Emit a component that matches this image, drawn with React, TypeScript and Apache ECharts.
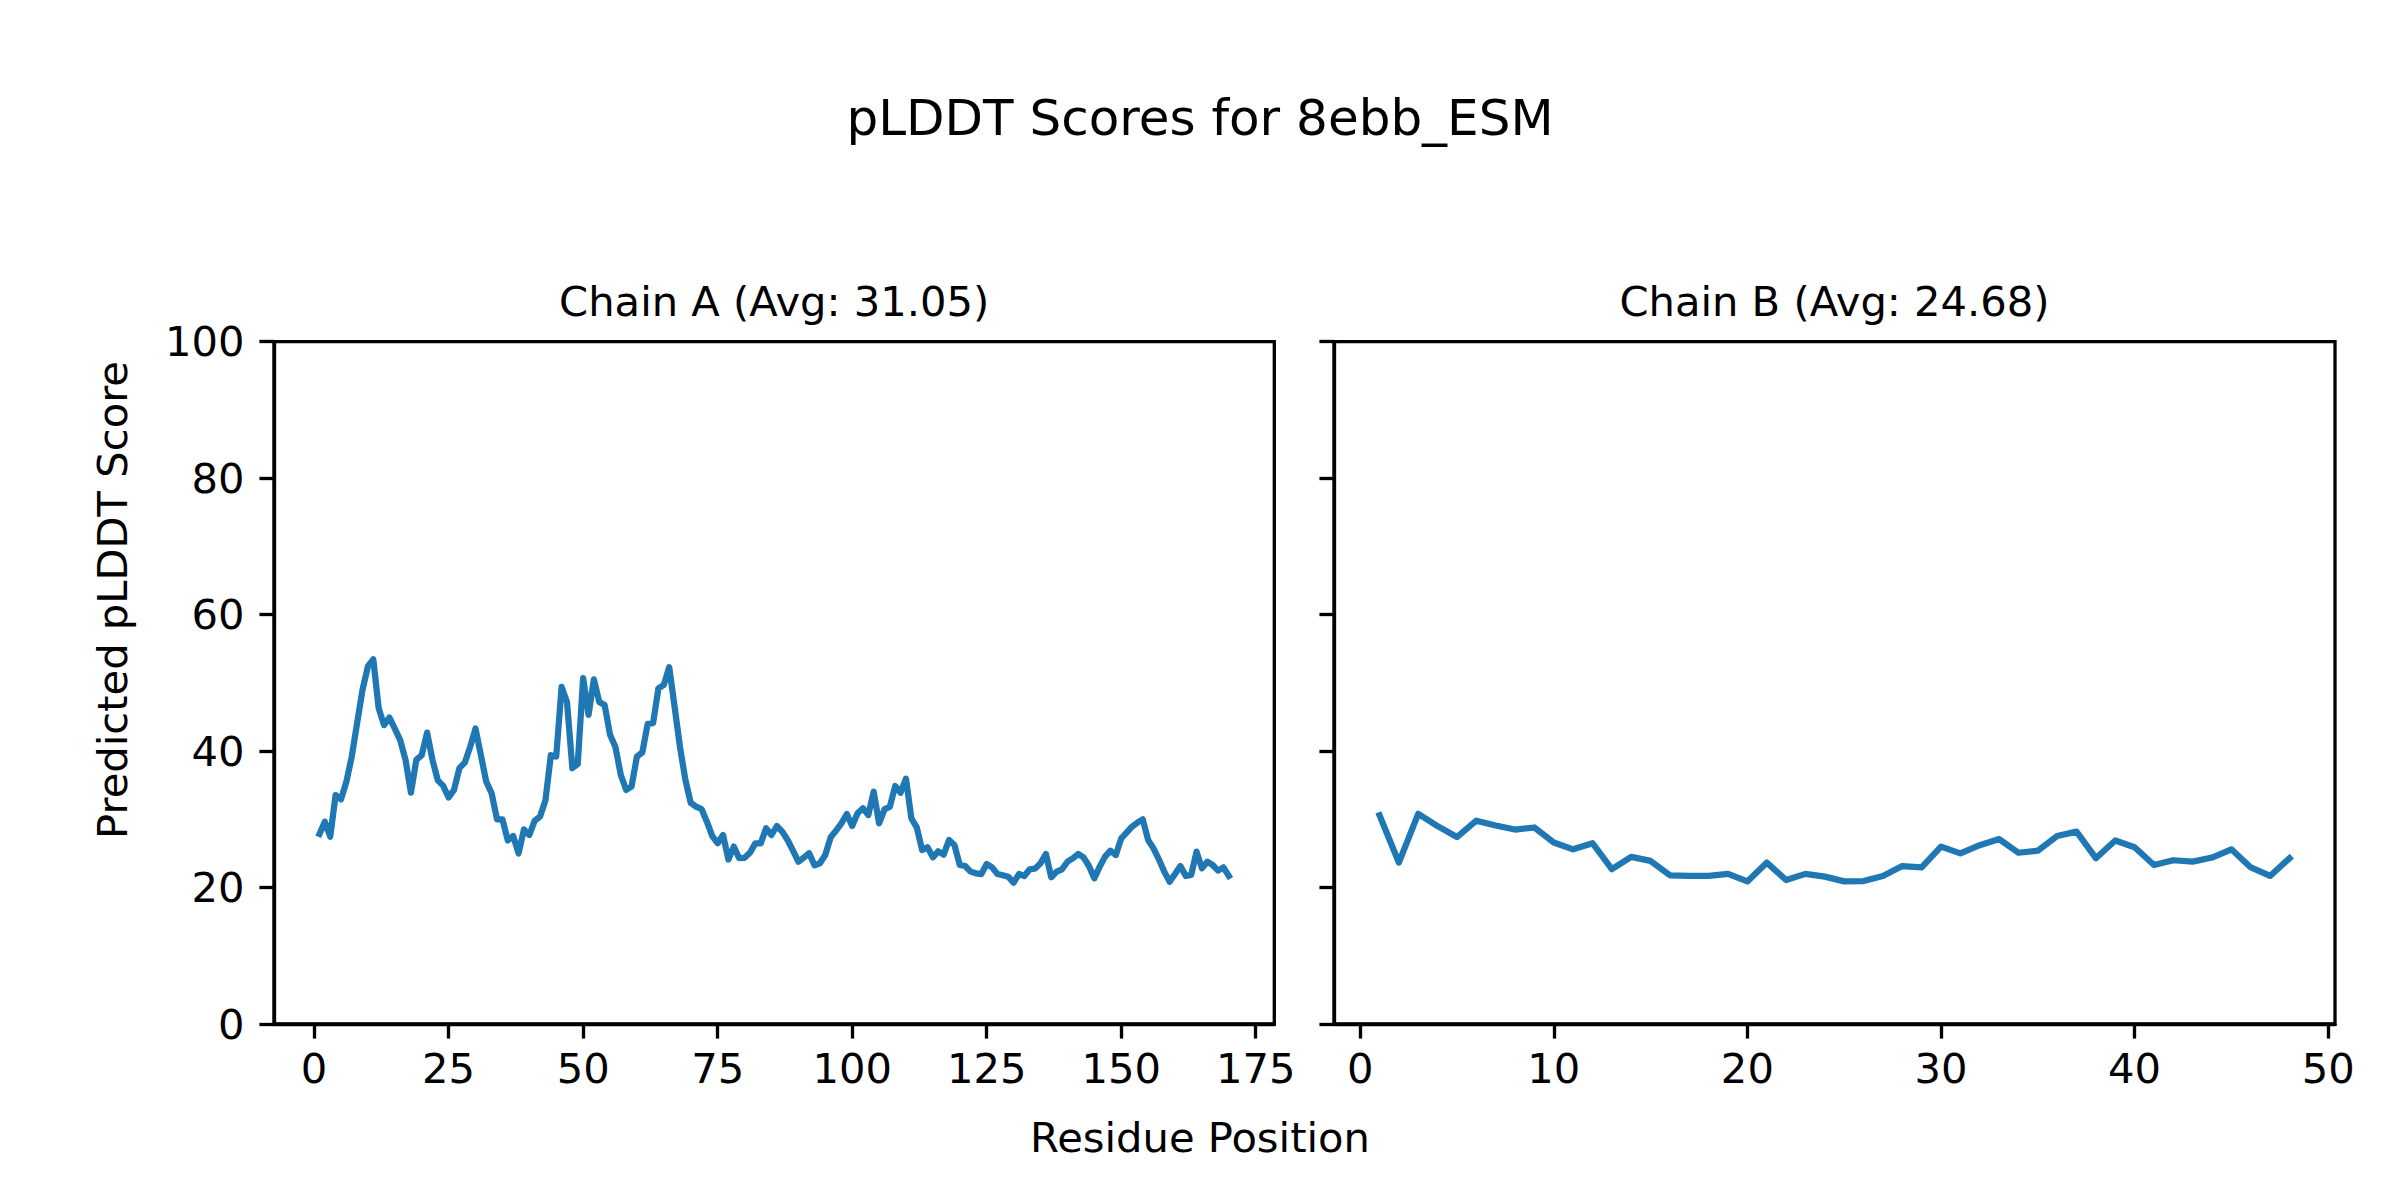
import React, { useEffect, useRef } from "react";
import * as echarts from "echarts";

const chainAScores = [
  27.85, 29.65, 27.45, 33.56, 32.93, 35.5, 39.2, 44.1, 49.0, 52.4,
  53.45, 46.3, 43.8, 44.9, 43.3, 41.6, 38.7, 33.9, 38.7, 39.4,
  42.7, 38.7, 35.7, 34.9, 33.2, 34.3, 37.5, 38.3, 40.6, 43.3,
  39.4, 35.5, 33.8, 30.0, 30.0, 26.9, 27.55, 25.0, 28.5, 27.7,
  29.8, 30.4, 32.8, 39.4, 39.2, 49.4, 47.2, 37.5, 38.1, 50.7,
  45.3, 50.5, 47.2, 46.75, 42.4, 40.6, 36.5, 34.3, 34.8, 39.2,
  39.8, 44.0, 44.1, 49.2, 49.7, 52.3, 46.5, 40.6, 35.8, 32.4,
  31.85, 31.5, 29.65, 27.55, 26.5, 27.7, 24.1, 26.0, 24.3, 24.35,
  25.1, 26.48, 26.48, 28.68, 27.7, 29.02, 28.19, 26.97, 25.4, 23.79,
  24.38, 25.02, 23.26, 23.55, 24.77, 27.36, 28.34, 29.41, 30.78, 29.02,
  30.88, 31.61, 30.63, 34.05, 29.41, 31.46, 31.85, 34.88, 33.9, 35.95,
  30.15, 28.83, 25.5, 25.89, 24.43, 25.31, 24.82, 26.97, 26.24, 23.3,
  23.16, 22.33, 22.08, 21.98, 23.45, 22.96, 21.98, 21.79, 21.59, 20.71,
  21.98, 21.69, 22.67, 22.77, 23.55, 24.92, 21.5, 22.33, 22.67, 23.79,
  24.28, 24.92, 24.43, 23.16, 21.35, 23.06, 24.53, 25.4, 24.77, 27.21,
  28.04, 28.92, 29.5, 30.0, 26.97, 25.74, 24.14, 22.33, 20.86, 21.98,
  23.16, 21.69, 21.84, 25.26, 22.81, 23.79, 23.3, 22.48, 22.96, 21.69,
];

const chainBScores = [
  30.6, 23.65, 30.8, 29.0, 27.4, 29.8, 29.1, 28.5, 28.8, 26.6,
  25.6, 26.5, 22.7, 24.5, 23.9, 21.8, 21.7, 21.7, 22.0, 20.9,
  23.65, 21.1, 22.0, 21.6, 20.9, 20.95, 21.7, 23.15, 22.95, 26.0,
  25.0, 26.2, 27.1, 25.1, 25.4, 27.55, 28.2, 24.3, 26.9, 25.9,
  23.3, 24.0, 23.8, 24.4, 25.6, 22.95, 21.7, 24.3,
];

const chainAXTicks = [0, 25, 50, 75, 100, 125, 150, 175];
const chainBXTicks = [0, 10, 20, 30, 40, 50];

const suptitle = "pLDDT Scores for 8ebb_ESM";
const chainATitle = "Chain A (Avg: 31.05)";
const chainBTitle = "Chain B (Avg: 24.68)";
const xLabel = "Residue Position";
const yLabel = "Predicted pLDDT Score";

const FONT = "DejaVu Sans";
const FS = 41.67;
const TICK_W = 3.33;
const TICK_LEN = 14.58;

function toPairs(values: number[]) {
  return values.map((v, i) => [i + 1, v]);
}

function xAxisCfg(gridIndex: number, min: number, max: number, ticks: number[]) {
  return {
    type: "value",
    gridIndex,
    min,
    max,
    axisLine: { show: true, onZero: false, lineStyle: { color: "#000", width: TICK_W } },
    splitLine: { show: false },
    axisTick: {
      show: true,
      inside: false,
      length: TICK_LEN,
      customValues: ticks,
      lineStyle: { color: "#000", width: TICK_W },
    },
    axisLabel: {
      show: true,
      customValues: ticks,
      margin: 24,
      fontSize: FS,
      lineHeight: FS,
      fontFamily: FONT,
      color: "#000",
    },
  };
}

function yAxisCfg(gridIndex: number, showLabels: boolean) {
  return {
    type: "value",
    gridIndex,
    min: 0,
    max: 100,
    interval: 20,
    axisLine: { show: true, onZero: false, lineStyle: { color: "#000", width: TICK_W } },
    splitLine: { show: false },
    axisTick: {
      show: true,
      inside: false,
      length: TICK_LEN,
      lineStyle: { color: "#000", width: TICK_W },
    },
    axisLabel: {
      show: showLabels,
      margin: 29.5,
      fontSize: FS,
      lineHeight: FS,
      fontFamily: FONT,
      color: "#000",
    },
  };
}

function lineSeries(idx: number, values: number[]) {
  return {
    type: "line",
    xAxisIndex: idx,
    yAxisIndex: idx,
    data: toPairs(values),
    showSymbol: false,
    symbol: "none",
    clip: true,
    lineStyle: { color: "#1f77b4", width: 6.25, join: "round", cap: "square" },
  };
}

function textEl(text: string, x: number, y: number, size: number, rotation = 0) {
  return {
    type: "text",
    x,
    y,
    rotation,
    style: {
      text,
      fontSize: size,
      fontFamily: FONT,
      fill: "#000",
      align: "center",
      verticalAlign: "middle",
      lineHeight: size,
    },
  };
}

export default function App() {
  const ref = useRef<HTMLDivElement>(null);
  useEffect(() => {
    if (!ref.current) return;
    const chart = echarts.init(ref.current, undefined, { renderer: "svg" });
    const gridBase = {
      show: true,
      borderColor: "#000",
      borderWidth: TICK_W,
      backgroundColor: "transparent",
      containLabel: false,
    };
    chart.setOption({
      animation: false,
      backgroundColor: "#ffffff",
      grid: [
        { ...gridBase, left: 274, top: 341.7, width: 1000.3, height: 682.3 },
        { ...gridBase, left: 1334, top: 341.7, width: 1001, height: 682.3 },
      ],
      xAxis: [
        xAxisCfg(0, -7.45, 178.45, chainAXTicks),
        xAxisCfg(1, -1.35, 50.35, chainBXTicks),
      ],
      yAxis: [yAxisCfg(0, true), yAxisCfg(1, false)],
      series: [lineSeries(0, chainAScores), lineSeries(1, chainBScores)],
      graphic: [
        textEl(suptitle, 1200, 117.5, 50),
        textEl(chainATitle, 774.2, 301.6, FS),
        textEl(chainBTitle, 1834.5, 301.6, FS),
        textEl(xLabel, 1200, 1137.3, FS),
        textEl(yLabel, 112.6, 600, FS, Math.PI / 2),
      ],
    });
    return () => chart.dispose();
  }, []);
  return (
    <div
      ref={ref}
      style={{ position: "absolute", left: 0, top: 0, width: 2400, height: 1200, background: "#fff" }}
    />
  );
}
